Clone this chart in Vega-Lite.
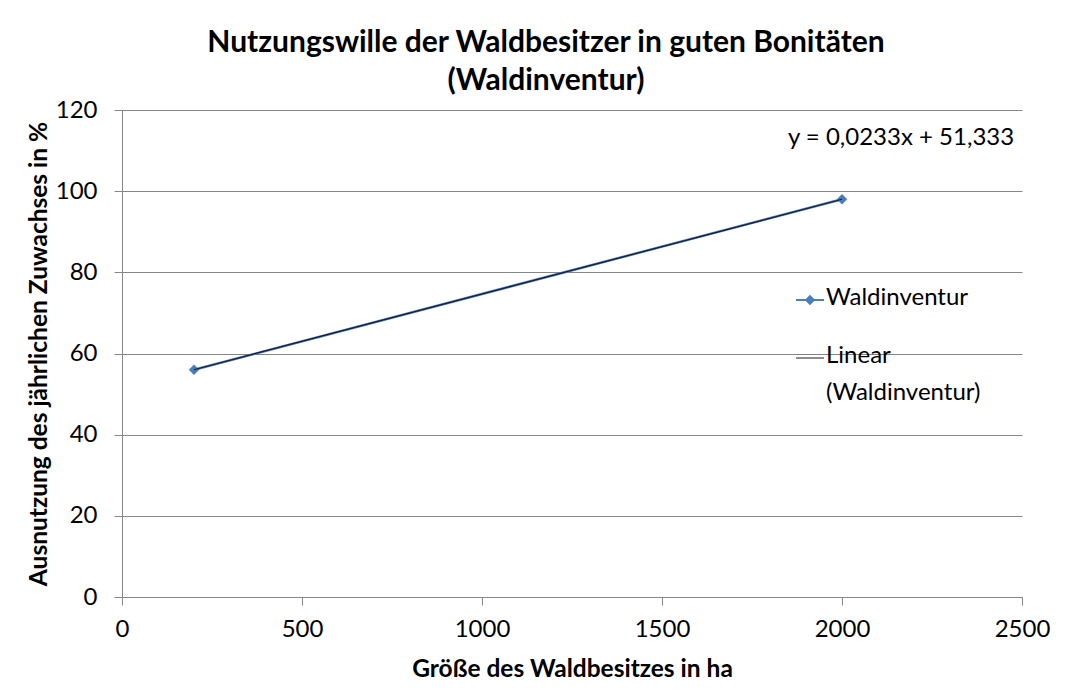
{
  "$schema": "https://vega.github.io/schema/vega-lite/v6.json",
  "width": 900,
  "height": 487,
  "autosize": {"type": "none"},
  "padding": {"left": 122, "top": 110, "right": 44, "bottom": 102},
  "background": "white",
  "title": {
    "text": ["Nutzungswille der Waldbesitzer in guten Bonitäten", "(Waldinventur)"],
    "font": "Lato",
    "fontSize": 30,
    "fontWeight": "bold",
    "color": "#000000",
    "anchor": "middle",
    "frame": "group",
    "dx": -26,
    "offset": 2,
    "lineHeight": 38
  },
  "data": {
    "values": [
      {"size": 200, "nutzung": 56, "series": "Waldinventur"},
      {"size": 2000, "nutzung": 98, "series": "Waldinventur"}
    ]
  },
  "layer": [
    {
      "mark": {"type": "line", "strokeWidth": 2.5},
      "encoding": {
        "x": {
          "field": "size", "type": "quantitative",
          "scale": {"domain": [0, 2500], "nice": false, "zero": true},
          "axis": {
            "title": "Größe des Waldbesitzes in ha",
            "values": [0, 500, 1000, 1500, 2000, 2500],
            "format": "d",
            "grid": false,
            "labelFlush": false,
            "labelOverlap": false,
            "tickSize": 8,
            "labelPadding": 12,
            "titlePadding": 16
          }
        },
        "y": {
          "field": "nutzung", "type": "quantitative",
          "scale": {"domain": [0, 120], "nice": false},
          "axis": {
            "title": "Ausnutzung des jährlichen Zuwachses in %",
            "values": [0, 20, 40, 60, 80, 100, 120],
            "format": "d",
            "grid": true,
            "tickSize": 8,
            "labelPadding": 17,
            "titlePadding": 4
          }
        },
        "color": {
          "field": "series", "type": "nominal",
          "scale": {"domain": ["Waldinventur", "Linear (Waldinventur)"], "range": ["#4A7EBB", "#1a1a2e"]},
          "legend": {
            "orient": "none",
            "legendX": 676,
            "legendY": 178,
            "title": null,
            "padding": 0,
            "labelFont": "Lato",
            "labelFontSize": 24,
            "labelColor": "#000000",
            "labelLimit": 0,
            "labelBaseline": "top",
            "labelOffset": 4,
            "symbolSize": 784,
            "rowPadding": 34,
            "labelExpr": "datum.label == 'Linear (Waldinventur)' ? ['Linear', '(Waldinventur)'] : datum.label",
            "encode": {
              "labels": {"update": {"dy": {"value": -14}, "lineHeight": {"value": 37}}},
              "symbols": {
                "update": {
                  "shape": {"signal": "datum.value == 'Waldinventur' ? 'M-1,0L1,0M0,-0.27L0.27,0L0,0.27L-0.27,0Z' : 'M-1,0L1,0'"},
                  "fill": {"signal": "datum.value == 'Waldinventur' ? '#4A7EBB' : 'transparent'"},
                  "stroke": {"signal": "datum.value == 'Waldinventur' ? '#4A7EBB' : '#404040'"},
                  "strokeWidth": {"signal": "datum.value == 'Waldinventur' ? 2 : 1"},
                  "opacity": {"value": 1}
                }
              }
            }
          }
        }
      }
    },
    {
      "mark": {"type": "point", "shape": "diamond", "filled": true, "size": 110, "opacity": 1},
      "encoding": {
        "x": {"field": "size", "type": "quantitative"},
        "y": {"field": "nutzung", "type": "quantitative"},
        "color": {"field": "series", "type": "nominal"}
      }
    },
    {
      "transform": [{"regression": "nutzung", "on": "size"}],
      "mark": {"type": "line", "strokeWidth": 1.2},
      "encoding": {
        "x": {"field": "size", "type": "quantitative"},
        "y": {"field": "nutzung", "type": "quantitative"},
        "color": {"datum": "Linear (Waldinventur)"}
      }
    },
    {
      "data": {"values": [{"label": "y = 0,0233x + 51,333"}]},
      "mark": {"type": "text", "font": "Lato", "fontSize": 24, "color": "#000000", "align": "center", "baseline": "middle"},
      "encoding": {
        "x": {"datum": 2164},
        "y": {"datum": 113},
        "text": {"field": "label"}
      }
    }
  ],
  "config": {
    "view": {"stroke": null},
    "axis": {
      "labelFont": "Lato",
      "labelFontSize": 24,
      "labelColor": "#000000",
      "titleFont": "Lato",
      "titleFontSize": 24.5,
      "titleFontWeight": "bold",
      "titleColor": "#000000",
      "domainColor": "#868686",
      "tickColor": "#868686",
      "gridColor": "#868686",
      "domainWidth": 1,
      "tickWidth": 1,
      "gridWidth": 1
    }
  }
}
